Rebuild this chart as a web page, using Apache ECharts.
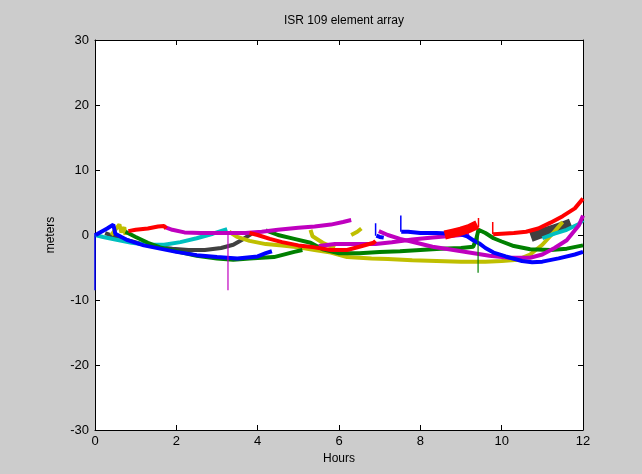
<!DOCTYPE html>
<html><head><meta charset="utf-8">
<script src="https://cdn.jsdelivr.net/npm/echarts@6/dist/echarts.min.js"></script>
<style>html,body{margin:0;padding:0;background:#cccccc;}#c{width:642px;height:474px;}</style>
</head><body><div id="c"></div>
<script>
const xTicks = [0, 2, 4, 6, 8, 10, 12];
const yTicks = [-30, -20, -10, 0, 10, 20, 30];

// each color: list of segments of [hours, meters]
const blue = [
  [[0.02,0],[0.1,0.3],[0.3,1.0],[0.45,1.6],[0.5,0.2],[0.8,-0.8],[1.2,-1.6],[1.6,-2.1],[2.0,-2.6],[2.5,-3.1],[3.0,-3.4],[3.5,-3.6],[4.0,-3.3],[4.2,-2.8],[4.35,-2.5]],
  [[6.92,-0.1],[7.0,-0.3],[7.1,-0.4]],
  [[7.53,0.5],[7.7,0.5],[8.0,0.3],[8.4,0.3],[8.8,0.2],[9.0,0.1],[9.15,-0.2],[9.3,-0.8],[9.45,-1.3],[9.6,-2.0],[9.8,-2.7],[10.1,-3.3],[10.5,-4.0],[10.75,-4.2],[11.0,-4.1],[11.4,-3.6],[11.8,-3.0],[12,-2.6]]
];
const blueSpikes = [ [[0,-8.5],[0,0.3]], [[6.9,1.8],[6.9,-0.1]], [[7.52,3.0],[7.52,0.5]] ];

const red = [
  [[0.82,0.6],[1.0,0.8],[1.3,1.0],[1.55,1.3],[1.7,1.4],[1.75,1.0]],
  [[3.8,0.3],[4.0,0.0],[4.3,-0.6],[4.6,-1.1],[5.0,-1.6],[5.4,-1.9],[5.8,-2.3],[6.2,-2.3],[6.5,-1.8],[6.85,-1.2],[6.9,-0.9]],
  [[9.79,0.1],[10.0,0.2],[10.3,0.3],[10.6,0.5],[10.9,1.0],[11.2,1.9],[11.5,2.9],[11.8,4.1],[12,5.6]]
];
const redNoisy = [
  [[8.6,0.0],[8.8,0.3],[9.0,0.6],[9.2,1.0],[9.4,1.6]]
];
const redSpikes = [ [[9.78,2.0],[9.78,0.1]], [[9.43,2.6],[9.43,1.2]] ];

const green = [
  [[0.75,0.5],[1.0,-0.3],[1.3,-1.2],[1.6,-1.9],[2.0,-2.5],[2.5,-3.2],[3.0,-3.6],[3.4,-3.8],[3.8,-3.6],[4.4,-3.4],[4.9,-2.6],[5.1,-2.3]],
  [[4.2,0.7],[4.5,0.0],[4.9,-0.6],[5.3,-1.2],[5.6,-2.2],[6.0,-2.8],[6.5,-2.8],[7.0,-2.6],[7.5,-2.5],[8.0,-2.3],[8.5,-2.1],[9.0,-2.0],[9.3,-1.8],[9.38,-0.5],[9.43,0.8],[9.6,0.3],[9.8,-0.5],[10.0,-1.0],[10.3,-1.7],[10.7,-2.2],[11.2,-2.3],[11.6,-2.1],[12,-1.6]]
];
const greenSpikes = [ [[9.42,0.3],[9.42,-5.8]] ];

const cyan = [
  [[0,0],[0.2,-0.3],[0.5,-0.7],[0.9,-1.2],[1.3,-1.5],[1.7,-1.5],[2.1,-1.1],[2.5,-0.5],[2.9,0.2],[3.15,0.7],[3.25,0.9]],
  [[11.0,-0.5],[11.3,0.2],[11.6,0.8],[11.9,1.7],[12,2.3]]
];

const magenta = [
  [[1.72,1.2],[1.9,0.8],[2.2,0.4],[2.6,0.3],[3.0,0.3],[3.3,0.3],[3.7,0.3],[4.1,0.5],[4.5,0.8],[5.0,1.1],[5.4,1.3],[5.8,1.6],[6.1,2.0],[6.3,2.3]],
  [[6.98,0.6],[7.2,0.0],[7.5,-0.6],[7.9,-1.2],[8.3,-1.8],[8.7,-2.2],[9.2,-2.7],[9.7,-3.2],[10.2,-3.5],[10.7,-3.5],[11.0,-3.0],[11.3,-2.0],[11.6,-0.8],[11.9,1.5],[12,3.0]],
  [[5.5,-1.7],[5.9,-1.4],[6.4,-1.4],[6.9,-1.4],[7.3,-1.1],[7.8,-0.7],[8.3,-0.4],[8.8,-0.1],[9.2,0.1]]
];
const magentaSpikes = [ [[3.27,0.3],[3.27,-8.5]] ];

const yellow = [
  [[0.4,0.0],[0.5,0.8],[0.6,1.6],[0.65,0.4],[0.72,1.2],[0.75,0.0]],
  [[3.3,0.5],[3.5,-0.3],[3.8,-0.9],[4.2,-1.4],[4.6,-1.6],[5.0,-1.9],[5.4,-2.3],[5.8,-2.7],[6.2,-3.4],[6.8,-3.6],[7.2,-3.7],[7.8,-3.9],[8.4,-4.0],[9.0,-4.1],[9.6,-4.1],[10.0,-4.0],[10.4,-3.8],[10.7,-3.0],[11.0,-1.5],[11.25,0.2],[11.5,2.0]],
  [[5.3,0.8],[5.35,-0.2],[5.6,-1.2],[5.9,-2.0]],
  [[6.3,0.0],[6.45,0.5],[6.55,1.0]]
];

const gray = [
  [[0.25,0.3],[0.5,-0.3],[0.8,-0.8],[1.1,-1.3],[1.5,-1.8],[1.9,-2.1],[2.3,-2.3],[2.7,-2.3],[3.1,-2.0],[3.4,-1.5],[3.65,-0.6],[3.85,0.2]]
];
const grayNoisy = [
  [[10.72,-0.3],[10.9,0.1],[11.1,0.5],[11.3,0.9],[11.5,1.3],[11.7,1.8]]
];

const groups = [
  {segs: gray, color: '#404040', w: 4},
  {segs: grayNoisy, color: '#404040', w: 10},
  {segs: yellow, color: '#bfbf00', w: 4},
  {segs: cyan, color: '#00bfbf', w: 4},
  {segs: green, color: '#008000', w: 4},
  {segs: magenta, color: '#bf00bf', w: 4},
  {segs: blue, color: '#0000ff', w: 4},
  {segs: red, color: '#ff0000', w: 4},
  {segs: redNoisy, color: '#ff0000', w: 9},
  {segs: greenSpikes, color: '#008000', w: 1.2},
  {segs: magentaSpikes, color: '#bf00bf', w: 1.2},
  {segs: blueSpikes, color: '#0000ff', w: 1.5},
  {segs: redSpikes, color: '#ff0000', w: 1.5}
];

const series = [];
groups.forEach(g => g.segs.forEach(s => series.push({
  type: 'line', data: s, showSymbol: false, symbol: 'none', animation: false,
  lineStyle: {color: g.color, width: g.w, cap: 'butt'}, xAxisIndex: 0, yAxisIndex: 0, silent: true
})));

const font = 'Liberation Sans, Arial, sans-serif';
const axCommon = () => ({
  axisLine: {show: true, onZero: false, lineStyle: {color: '#000', width: 1}},
  axisTick: {show: true, inside: true, length: 5, lineStyle: {color: '#000'}},
  splitLine: {show: false}
});

const chart = echarts.init(document.getElementById('c'), null, {renderer: 'canvas'});
chart.setOption({
  backgroundColor: '#cccccc',
  animation: false,
  title: {text: 'ISR 109 element array', left: 339, top: 10, textAlign: 'center',
    textStyle: {fontFamily: font, fontSize: 12, fontWeight: 'normal', color: '#000'}},
  grid: {left: 95, right: 59, top: 40, bottom: 44, show: true, backgroundColor: '#ffffff', borderWidth: 0},
  xAxis: [
    Object.assign({type: 'value', position: 'bottom', min: xTicks[0], max: xTicks[xTicks.length-1], interval: 2,
      name: 'Hours', nameLocation: 'middle', nameGap: 22,
      nameTextStyle: {fontFamily: font, fontSize: 12, color: '#000'},
      axisLabel: {fontFamily: font, fontSize: 13, color: '#000', margin: 5}}, axCommon()),
    Object.assign({type: 'value', position: 'top', min: xTicks[0], max: xTicks[xTicks.length-1], interval: 2,
      axisLabel: {show: false}}, axCommon())
  ],
  yAxis: [
    Object.assign({type: 'value', position: 'left', min: yTicks[0], max: yTicks[yTicks.length-1], interval: 10,
      name: 'meters', nameLocation: 'middle', nameGap: 38, nameRotate: 90,
      nameTextStyle: {fontFamily: font, fontSize: 12, color: '#000'},
      axisLabel: {fontFamily: font, fontSize: 13, color: '#000', margin: 6}}, axCommon()),
    Object.assign({type: 'value', position: 'right', min: yTicks[0], max: yTicks[yTicks.length-1], interval: 10,
      axisLabel: {show: false}}, axCommon())
  ],
  series: series
});
</script></body></html>
